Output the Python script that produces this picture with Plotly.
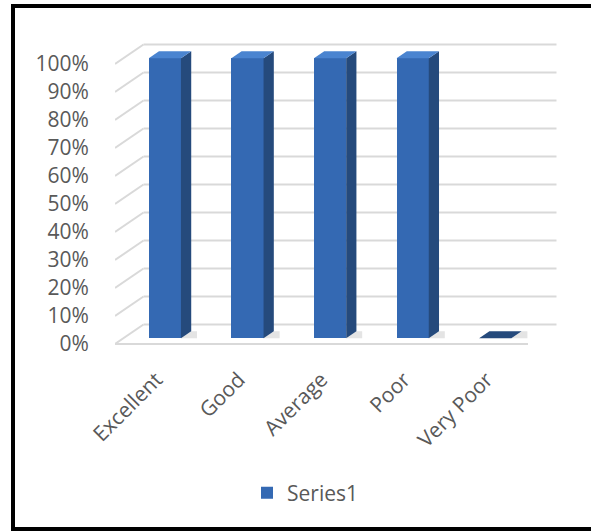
import plotly.graph_objects as go

# ---- data ----
categories = ["Excellent", "Good", "Average", "Poor", "Very Poor"]
values = [1.0, 1.0, 1.0, 1.0, 0.0]
series_name = "Series1"
y_ticks = [0, 0.1, 0.2, 0.3, 0.4, 0.5, 0.6, 0.7, 0.8, 0.9, 1.0]
y_tick_labels = ["0%", "10%", "20%", "30%", "40%", "50%", "60%", "70%", "80%", "90%", "100%"]

# ---- 3D-look geometry (data units) ----
DX, DY = 0.345, 0.0696        # full depth offset of the floor/walls
F_FRONT, F_BACK = 0.30, 0.66  # depth fractions of bar front/back faces
BAR_W = 0.39
x_idx = list(range(len(categories)))

FONT = "Open Sans"
FS = 21
GRAY = "#595959"
GRID = "#d9d9d9"
FRONT = "#3469b3"
SIDE = "#254a7c"
TOP = "#4a84d0"

fig = go.Figure()
fig.add_trace(go.Bar(
    x=[i + F_FRONT * DX for i in x_idx],
    y=values,
    base=F_FRONT * DY,
    width=BAR_W,
    name=series_name,
    marker=dict(color=FRONT, line=dict(width=0)),
    showlegend=True,
))

shapes = []
# gridlines: left diagonal + back wall
for t in y_ticks:
    shapes.append(dict(type="line", xref="x", yref="y", layer="below",
                       x0=-0.5, y0=t, x1=-0.5 + DX, y1=t + DY,
                       line=dict(color=GRID, width=2)))
    shapes.append(dict(type="line", xref="x", yref="y", layer="below",
                       x0=-0.5 + DX, y0=t + DY, x1=len(categories) - 0.5 + DX, y1=t + DY,
                       line=dict(color=GRID, width=2)))
# front floor edge
shapes.append(dict(type="line", xref="x", yref="y", layer="below",
                   x0=-0.5, y0=0, x1=len(categories) - 0.5, y1=0,
                   line=dict(color=GRID, width=2)))

ddx = (F_BACK - F_FRONT) * DX
ddy = (F_BACK - F_FRONT) * DY
for i, v in zip(x_idx, values):
    xl = i + F_FRONT * DX - BAR_W / 2
    xr = i + F_FRONT * DX + BAR_W / 2
    yb = F_FRONT * DY
    yt = yb + v
    # shadow on floor
    shapes.append(dict(type="path", xref="x", yref="y", layer="below",
                       path=f"M{xr},{yb} L{xr + ddx + 0.07},{yb} L{xr + ddx + 0.07},{yb + ddy} L{xr + ddx},{yb + ddy} Z",
                       fillcolor="rgba(130,130,130,0.22)", line=dict(width=0)))
    if v > 0:
        # side face
        shapes.append(dict(type="path", xref="x", yref="y",
                           path=f"M{xr},{yb} L{xr + ddx},{yb + ddy} L{xr + ddx},{yt + ddy} L{xr},{yt} Z",
                           fillcolor=SIDE, line=dict(width=0)))
    # top face
    shapes.append(dict(type="path", xref="x", yref="y",
                       path=f"M{xl},{yt} L{xr},{yt} L{xr + ddx},{yt + ddy} L{xl + ddx},{yt + ddy} Z",
                       fillcolor=TOP if v > 0 else SIDE, line=dict(width=0)))

# frame around the chart (paper coords)
L, R, T, B = 115, 560, 38, 350
def px(x):
    return (x - L) / (R - L)
def py(y):
    return (B - y) / (B - T)
frame = dict(color="black", width=4)
shapes.append(dict(type="line", xref="paper", yref="paper", x0=px(13), y0=py(6), x1=px(13), y1=py(529), line=frame))
shapes.append(dict(type="line", xref="paper", yref="paper", x0=px(11), y0=py(6), x1=px(595), y1=py(6), line=frame))
shapes.append(dict(type="line", xref="paper", yref="paper", x0=px(11), y0=py(529), x1=px(595), y1=py(529), line=frame))

y_lo = (344 - B) / 280
y_hi = (344 - T) / 280
x_hi = (R - L) / 82.6 - 0.5

fig.update_layout(
    width=591, height=531,
    margin=dict(l=L, r=591 - R, t=T, b=531 - B, pad=0, autoexpand=False),
    paper_bgcolor="white", plot_bgcolor="rgba(0,0,0,0)",
    font=dict(family=FONT, size=FS, color=GRAY),
    shapes=shapes,
    bargap=0,
    xaxis=dict(range=[-0.5, x_hi], tickvals=x_idx, ticktext=categories,
               tickangle=-45, showgrid=False, zeroline=False, showline=False,
               ticks="outside", ticklen=8, tickcolor="rgba(0,0,0,0)",
               tickfont=dict(family=FONT, size=FS, color=GRAY), fixedrange=True,
               automargin=False),
    yaxis=dict(range=[y_lo, y_hi], tickvals=y_ticks, ticktext=y_tick_labels,
               showgrid=False, zeroline=False, showline=False,
               ticks="outside", ticklen=21, tickcolor="rgba(0,0,0,0)",
               tickfont=dict(family=FONT, size=FS, color=GRAY), fixedrange=True,
               automargin=False),
    legend=dict(orientation="h", x=px(305), xanchor="center", y=py(493), yanchor="middle",
                font=dict(family=FONT, size=FS, color=GRAY), bgcolor="rgba(0,0,0,0)"),
    showlegend=True,
)

fig.write_html(
    "out.html",
    config={"displayModeBar": False},
    post_script="document.body.style.margin='0';document.body.style.overflow='hidden';",
)
